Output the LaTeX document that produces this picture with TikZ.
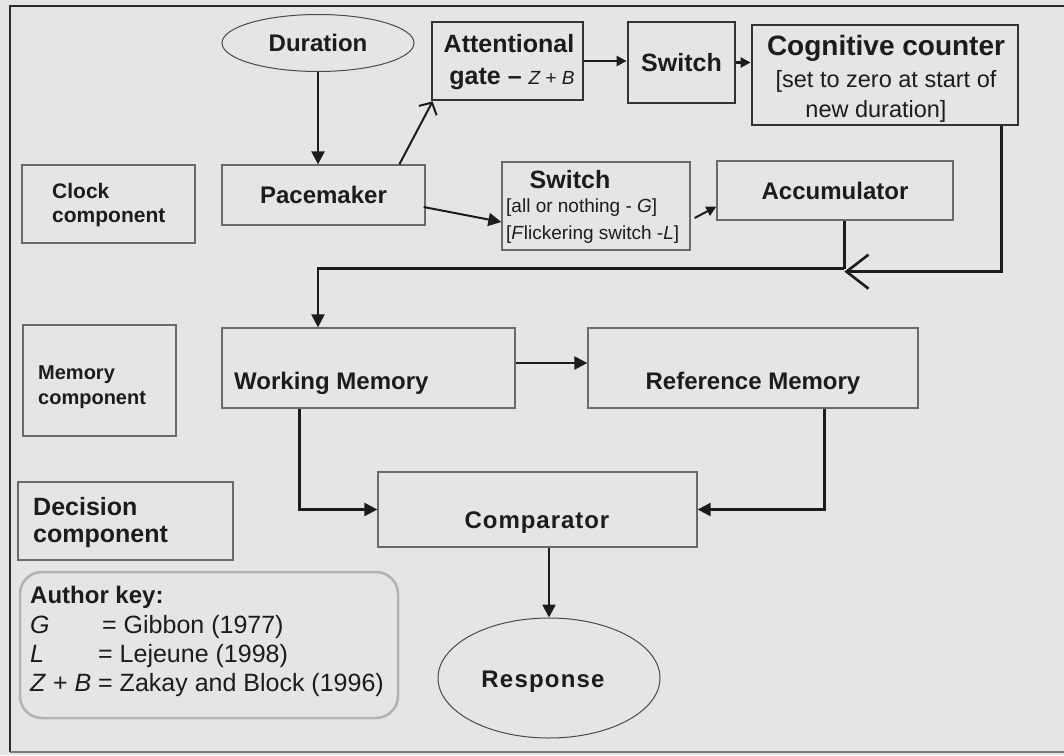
\documentclass[tikz,border=0pt]{standalone}
\usepackage{fontspec}
\setmainfont{Liberation Sans}
\usetikzlibrary{arrows.meta,shapes.geometric,calc}
\definecolor{paper}{HTML}{E5E5E5}
\definecolor{ink}{HTML}{1C1C1C}
\definecolor{edge}{HTML}{6A6A6A}
\definecolor{edgedark}{HTML}{333333}
\definecolor{keyedge}{HTML}{B2B2B2}
\definecolor{framedark}{HTML}{2C2C2C}
\definecolor{framelight}{HTML}{7A7A7A}
\begin{document}
\begin{tikzpicture}[x=1pt,y=-1pt,
  txt/.style={inner sep=0pt, text=ink},
  box/.style={rectangle, draw=edge, line width=1.3pt, inner sep=0pt, text=ink},
  heavy/.style={rectangle, draw=edgedark, line width=2.8pt, inner sep=0pt, text=ink},
  oval/.style={ellipse, draw=edge!70!black, line width=1pt, inner sep=0pt, text=ink},
  big/.style={font=\fontsize{24}{28}\selectfont\bfseries},
  note/.style={font=\fontsize{19}{22}\selectfont},
  keyfont/.style={font=\fontsize{25}{28}\selectfont},
  flow/.style={draw=ink, line width=2.4pt, -{Triangle[length=13pt,width=13pt]}},
  flowsmall/.style={draw=ink, line width=2.4pt, -{Triangle[length=10pt,width=10pt]}},
  barb/.style={draw=ink, line width=2pt, -{Straight Barb[length=9pt,width=20pt]}},
  bigbarb/.style={draw=ink, line width=2.6pt, -{Straight Barb[length=22pt,width=34pt]}},
  link/.style={draw=ink, line width=2.4pt}]

\useasboundingbox (0,0) rectangle (1064,755);
\fill[paper] (0,0) rectangle (1064,755);

% outer frame
\draw[framedark, line width=2pt] (1064,6) -- (10,6) -- (10,752);
\draw[framelight, line width=2pt] (10,752) -- (1064,752);

% clock component
\node[oval, minimum width=192pt, minimum height=57pt, big] (dur) at (318,43) {Duration};
\node[heavy, minimum width=151pt, minimum height=78pt] (gate) at (507.5,61) {};
\node[txt, anchor=base, font=\fontsize{25}{30}\selectfont\bfseries] (gateA) at (509,52) {Attentional};
\node[txt, anchor=base, font=\fontsize{25}{30}\selectfont\bfseries] (gateB) at (512,84)
  {gate -- {\mdseries\itshape\fontsize{19}{24}\selectfont Z {\upshape+} B}};
\node[heavy, minimum width=107pt, minimum height=81pt, font=\fontsize{25}{28}\selectfont\bfseries] (sw1) at (681.5,62.5) {Switch};
\node[heavy, minimum width=266pt, minimum height=100pt] (cog) at (885,75) {};
\node[txt, anchor=base, font=\fontsize{28}{32}\selectfont\bfseries] (cogA) at (886,55) {Cognitive counter};
\node[txt, anchor=base, font=\fontsize{23.5}{28}\selectfont] (cogB) at (886,87) {[set to zero at start of};
\node[txt, anchor=base, font=\fontsize{23.5}{28}\selectfont] (cogC) at (876,117) {new duration]};

\node[box, minimum width=173pt, minimum height=78pt] (clock) at (108.5,204) {};
\node[txt, anchor=base west, align=left, font=\fontsize{21}{24}\selectfont\bfseries] (clockT) at (52,222) {Clock\\component};
\node[box, minimum width=203pt, minimum height=60pt, big] (pace) at (323.5,195) {Pacemaker};

\node[box, minimum width=188pt, minimum height=88pt] (sw2) at (596,206) {};
\node[txt, anchor=base, font=\fontsize{25}{28}\selectfont\bfseries] (sw2A) at (570,188) {Switch};
\node[txt, anchor=base west, note] (sw2B) at (506,212) {[all or nothing - \textit{G}]};
\node[txt, anchor=base west, note] (sw2C) at (506,239) {[\textit{F}lickering switch -\textit{L}]};
\node[box, minimum width=236pt, minimum height=59pt, big] (acc) at (835,190.5) {Accumulator};

% memory component
\node[box, minimum width=153pt, minimum height=111pt] (mem) at (99.5,380.5) {};
\node[txt, anchor=base west, align=left, font=\fontsize{20}{25}\selectfont\bfseries] (memT) at (38,404) {Memory\\component};
\node[box, minimum width=293pt, minimum height=80pt] (wm) at (368.5,368) {};
\node[txt, anchor=base west, big] (wmT) at (234,389) {Working Memory};
\node[box, minimum width=330pt, minimum height=80pt] (rm) at (753,368) {};
\node[txt, anchor=base, big] (rmT) at (753,389) {Reference Memory};

% decision component
\node[box, minimum width=215pt, minimum height=78pt] (dec) at (125.5,521) {};
\node[txt, anchor=base west, align=left, font=\fontsize{25}{27}\selectfont\bfseries] (decT) at (33,542) {Decision\\component};
\node[box, minimum width=319pt, minimum height=75pt] (comp) at (537.5,509.5) {};
\node[txt, anchor=base, font=\fontsize{24}{28}\selectfont\bfseries\addfontfeatures{LetterSpace=4}] (compT) at (537,528) {Comparator};
\node[oval, minimum width=222pt, minimum height=120pt] (resp) at (549,678) {};
\node[txt, anchor=base, font=\fontsize{24}{28}\selectfont\bfseries\addfontfeatures{LetterSpace=5}] (respT) at (543,687) {Response};

% author key
\node[rectangle, rounded corners=22pt, draw=keyedge, line width=2.5pt, minimum width=378pt, minimum height=146pt] (key) at (209,645) {};
\node[txt, anchor=base west, font=\fontsize{24}{28}\selectfont\bfseries] (keyA) at (30,603) {Author key:};
\node[txt, anchor=base west, keyfont] (keyG) at (30,633) {\textit{G}};
\node[txt, anchor=base west, keyfont] (keyGt) at (102,633) {= Gibbon (1977)};
\node[txt, anchor=base west, keyfont] (keyL) at (30,662) {\textit{L}};
\node[txt, anchor=base west, keyfont] (keyLt) at (98,662) {= Lejeune (1998)};
\node[txt, anchor=base west, keyfont] (keyZ) at (30,691) {\textit{Z} + \textit{B}};
\node[txt, anchor=base west, keyfont] (keyZt) at (98,691) {= Zakay and Block (1996)};

% connectors
\draw[flow] (dur.south) -- (dur.south |- pace.north);
\draw[barb] ($(pace.north west)+(178,0)$) -- ($(gate.south west)+(2,0)$);
\draw[flow, line width=2pt] ($(pace.east)+(-2,12)$) -- ($(sw2.west)+(0,16)$);
\draw[flowsmall] (gate.east) -- (gate.east -| sw1.west);
\draw[flowsmall] (sw1.east) -- (sw1.east -| cog.west);
\draw[flowsmall, line width=2pt] ($(sw2.east)+(4,12)$) -- ($(acc.west)+(0,16)$);

\coordinate (accout) at ($(acc.south west)+(128,0)$);
\coordinate (merge) at ($(accout)+(0,48)$);
\draw[link] (accout) -- (merge);
\draw[bigbarb] ($(cog.south east)+(-18,0)$) |- ($(merge)+(0,3)$);
\draw[flow] (merge) -| (dur.south |- wm.north);

\draw[flow] ($(wm.east)+(0,-5)$) -- ($(rm.west)+(0,-5)$);
\draw[flow] ($(wm.south west)+(78,0)$) |- (comp.west);
\draw[flow] ($(rm.south west)+(237,0)$) |- (comp.east);
\draw[flow] (comp.south -| resp.north) -- (resp.north);
\end{tikzpicture}
\end{document}
